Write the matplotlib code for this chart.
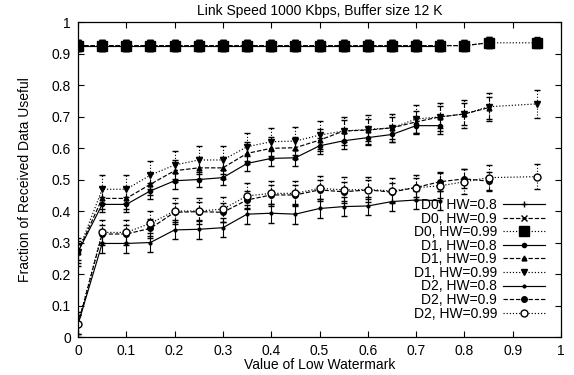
import matplotlib
matplotlib.use('Agg')
import matplotlib.pyplot as plt

plt.rcParams['font.family'] = ['Liberation Sans', 'DejaVu Sans']

# x values (low watermark) for each high watermark setting
x_hw08 = [0, 0.05, 0.1, 0.15, 0.2, 0.25, 0.3, 0.35, 0.4, 0.45, 0.5, 0.55, 0.6, 0.65, 0.7, 0.75]
x_hw09 = x_hw08 + [0.8, 0.85]
x_hw099 = x_hw09 + [0.95]

d0_hw08 = [0.925] * 16
d0_hw09 = [0.925] * 17 + [0.934]
d0_hw099 = [0.925] * 17 + [0.934, 0.934]

d1_hw08 = [0.27, 0.421, 0.421, 0.464, 0.496, 0.50, 0.506, 0.551, 0.567, 0.569,
           0.607, 0.623, 0.633, 0.643, 0.671, 0.671]
d1_hw09 = [0.27, 0.44, 0.44, 0.485, 0.528, 0.537, 0.537, 0.583, 0.599, 0.601,
           0.625, 0.654, 0.657, 0.664, 0.683, 0.699, 0.708, 0.728]
d1_hw099 = [0.27, 0.469, 0.469, 0.514, 0.546, 0.562, 0.562, 0.604, 0.62, 0.622,
            0.641, 0.654, 0.659, 0.664, 0.692, 0.699, 0.708, 0.731, 0.740]

d2_hw08 = [0.04, 0.297, 0.297, 0.30, 0.34, 0.342, 0.347, 0.39, 0.393, 0.39,
           0.408, 0.414, 0.416, 0.43, 0.435, 0.433]
d2_hw09 = [0.04, 0.327, 0.327, 0.345, 0.396, 0.398, 0.396, 0.435, 0.451, 0.451,
           0.467, 0.461, 0.467, 0.46, 0.475, 0.493, 0.502, 0.495]
d2_hw099 = [0.04, 0.332, 0.332, 0.361, 0.40, 0.40, 0.406, 0.448, 0.456, 0.456,
            0.472, 0.467, 0.468, 0.464, 0.474, 0.48, 0.493, 0.506, 0.509]

# approximate half-width of the error bars for each series
err = {'D0': 0.017, 'D1_08': 0.025, 'D1_09': 0.035, 'D1_099': 0.045,
       'D2_08': 0.03, 'D2_09': 0.03, 'D2_099': 0.04}

series = [
    ('D0, HW=0.8', x_hw08, d0_hw08, err['D0'], '-', '+', 5, 'k'),
    ('D0, HW=0.9', x_hw09, d0_hw09, err['D0'], '--', 'x', 4, 'k'),
    ('D0, HW=0.99', x_hw099, d0_hw099, err['D0'], ':', 's', 6.5, 'k'),
    ('D1, HW=0.8', x_hw08, d1_hw08, err['D1_08'], '-', 'o', 3, 'k'),
    ('D1, HW=0.9', x_hw09, d1_hw09, err['D1_09'], '--', '^', 3.5, 'k'),
    ('D1, HW=0.99', x_hw099, d1_hw099, err['D1_099'], ':', 'v', 4.5, 'k'),
    ('D2, HW=0.8', x_hw08, d2_hw08, err['D2_08'], '-', 'o', 2, 'k'),
    ('D2, HW=0.9', x_hw09, d2_hw09, err['D2_09'], '--', 'o', 4, 'k'),
    ('D2, HW=0.99', x_hw099, d2_hw099, err['D2_099'], ':', 'o', 5, 'w'),
]

fig = plt.figure(figsize=(5.74, 3.75), dpi=100)
ax = fig.add_axes([0.1359, 0.1013, 0.8415, 0.84])

handles = []
for label, xs, ys, e, ls, mk, ms, fc in series:
    eb = ax.errorbar(xs, ys, yerr=e, color='k', linestyle=ls, linewidth=0.85,
                     marker=mk, markersize=ms, markerfacecolor=fc,
                     markeredgecolor='k', markeredgewidth=1.0,
                     elinewidth=0.8, capsize=2.2, capthick=0.8, label=label)
    for bar in eb[2]:
        bar.set_linestyle(ls)
    handles.append(eb[0])

ax.set_xlim(0, 1)
ax.set_ylim(0, 1)
ticks = [i / 10 for i in range(11)]
ax.set_xticks(ticks)
ax.set_yticks(ticks)
ax.set_xticklabels(['{:g}'.format(t) for t in ticks])
ax.set_yticklabels(['{:g}'.format(t) for t in ticks])
ax.tick_params(direction='in', top=True, right=True, length=4, width=0.8,
               labelsize=10, pad=5)
for sp in ax.spines.values():
    sp.set_linewidth(0.9)

ax.set_title('Link Speed 1000 Kbps, Buffer size 12 K', fontsize=10, pad=5)
ax.set_xlabel('Value of Low Watermark', fontsize=10, labelpad=0)
ax.set_ylabel('Fraction of Received Data Useful', fontsize=10, labelpad=14)

ax.legend(handles=handles, labels=[s[0] for s in series],
          loc='lower right', bbox_to_anchor=(0.981, 0.03), frameon=False,
          markerfirst=False, fontsize=10, handlelength=3.0, handletextpad=0.45,
          labelspacing=-0.03, borderpad=0.0, numpoints=1)

fig.savefig('out.png', dpi=100)
